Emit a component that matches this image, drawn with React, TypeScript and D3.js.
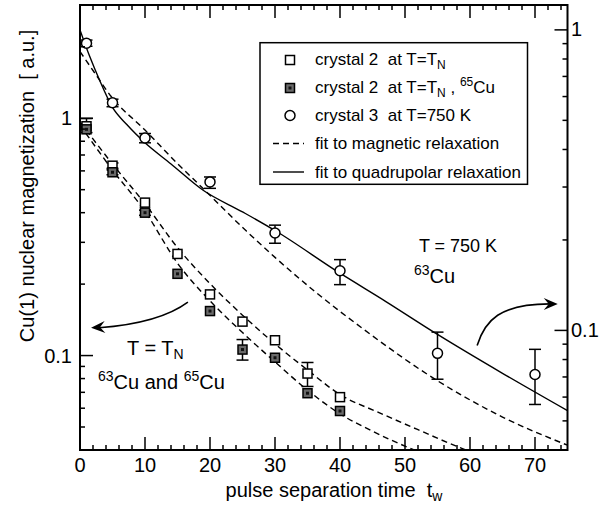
import React from 'react';
import * as d3 from 'd3';

const W = 611;
const H = 514;
const PL = 80, PR = 567.5, PT = 5, PB = 450;
const FONT = "'Liberation Sans', Arial, Helvetica, sans-serif";

// ---- data: crystal 2 at T = T_N (left axis) ----
const tnTimes = [1, 5, 10, 15, 20, 25, 30, 35, 40];
const open63 = [0.925, 0.631, 0.441, 0.268, 0.181, 0.139, 0.116, 0.084, 0.0668];
const open63Hi = [0.997, 0.648, null, null, null, null, null, 0.0935, null];
const open63Lo = [0.87, 0.615, null, null, null, null, null, 0.0741, null];
const filled65 = [0.898, 0.592, 0.4, 0.221, 0.154, 0.106, 0.0979, 0.0694, 0.0584];
const filled65Hi = [null, 0.606, 0.41, null, null, 0.1168, null, null, null];
const filled65Lo = [null, 0.578, 0.39, null, null, 0.0957, null, null, null];

// ---- data: crystal 3 at T = 750 K (right axis) ----
const hotTimes = [1, 5, 10, 20, 30, 40, 55, 70];
const hot750 = [0.903, 0.572, 0.437, 0.312, 0.211, 0.158, 0.0839, 0.0713];
const hot750Hi = [0.925, 0.588, 0.452, 0.324, 0.224, 0.172, 0.0987, 0.0865];
const hot750Lo = [0.882, 0.555, 0.421, 0.297, 0.195, 0.142, 0.0688, 0.0567];

// ---- fit curves ----
const quadT = [0, 1.5, 3, 5, 7.2, 10, 14, 19, 25, 30, 40, 47, 55, 65, 75];
const quadV = [1.0, 0.815, 0.681, 0.552, 0.484, 0.421, 0.358, 0.292, 0.248, 0.215, 0.155, 0.125, 0.097, 0.072, 0.0541];
const magHotT = [0, 2.3, 4.8, 10, 15, 18.7, 25.6, 30, 35.9, 43.6, 55, 65, 75];
const magHotV = [0.847, 0.717, 0.6, 0.464, 0.359, 0.3, 0.214, 0.175, 0.136, 0.101, 0.068, 0.0515, 0.0415];
const mag63T = [0, 5, 10, 15, 20, 25, 30, 35, 40, 46, 52, 58.2, 61];
const mag63V = [0.965, 0.641, 0.436, 0.285, 0.201, 0.148, 0.112, 0.087, 0.0685, 0.0575, 0.0487, 0.0412, 0.0385];
const mag65T = [0, 5, 10, 15, 20, 25, 30, 35, 40, 44.6, 50.3, 53];
const mag65V = [0.936, 0.605, 0.405, 0.245, 0.17, 0.125, 0.094, 0.0715, 0.0568, 0.0486, 0.0412, 0.0385];

// ---- ticks ----
const xMajor = [0, 10, 20, 30, 40, 50, 60, 70];
const xMinor = [2, 4, 6, 8, 12, 14, 16, 18, 22, 24, 26, 28, 32, 34, 36, 38, 42, 44, 46, 48, 52, 54, 56, 58, 62, 64, 66, 68, 72, 74];
const yMajor = [0.1, 1];
const yMajorLabels = ['0.1', '1'];
const yLeftMinor = [0.05, 0.06, 0.07, 0.08, 0.09, 0.2, 0.3, 0.4, 0.5, 0.6, 0.7, 0.8, 0.9, 2];
const yRightMinor = [0.04, 0.05, 0.06, 0.07, 0.08, 0.09, 0.2, 0.3, 0.4, 0.5, 0.6, 0.7, 0.8, 0.9];

const x = d3.scaleLinear().domain([0, 75]).range([PL, PR]);
const yL = d3.scaleLog().domain([0.04, 3]).range([PB, PT]);
const yR = d3.scaleLog().domain([0.04, 1.21]).range([PB, PT]);

function curvePath(ts: number[], vs: number[], ys: any) {
  const pts: [number, number][] = ts.map((t, i) => [x(t), ys(vs[i])]);
  return d3.line().curve(d3.curveMonotoneX)(pts) || '';
}

function arrowHead(tipX: number, tipY: number, fromX: number, fromY: number) {
  const ang = Math.atan2(tipY - fromY, tipX - fromX);
  const len = 14, hw = 6, notch = 9;
  const c = Math.cos(ang), s = Math.sin(ang);
  const bx = tipX - len * c, by = tipY - len * s;
  const p1 = [bx - hw * s, by + hw * c];
  const p2 = [bx + hw * s, by - hw * c];
  const n = [tipX - notch * c, tipY - notch * s];
  return `M${tipX},${tipY}L${p1[0]},${p1[1]}L${n[0]},${n[1]}L${p2[0]},${p2[1]}Z`;
}

const MAJ = 13, MIN = 5;
const SQ = 9;

function ErrorBar({ cx, hi, lo }: { cx: number; hi: number; lo: number }) {
  return (
    <g stroke="#000" strokeWidth={1.5}>
      <line x1={cx} x2={cx} y1={hi} y2={lo} />
      <line x1={cx - 6} x2={cx + 6} y1={hi} y2={hi} />
      <line x1={cx - 6} x2={cx + 6} y1={lo} y2={lo} />
    </g>
  );
}

function OpenSquare({ cx, cy }: { cx: number; cy: number }) {
  return <rect x={cx - SQ / 2} y={cy - SQ / 2} width={SQ} height={SQ} fill="#fff" stroke="#000" strokeWidth={1.5} />;
}
function FilledSquare({ cx, cy }: { cx: number; cy: number }) {
  return (
    <g>
      <rect x={cx - SQ / 2} y={cy - SQ / 2} width={SQ} height={SQ} fill="#6a6a6a" stroke="#000" strokeWidth={1.5} />
      <rect x={cx - 1.5} y={cy - 1.5} width={3} height={3} fill="#111" />
    </g>
  );
}
function OpenCircle({ cx, cy }: { cx: number; cy: number }) {
  return <circle cx={cx} cy={cy} r={5} fill="#fff" stroke="#000" strokeWidth={1.5} />;
}

export default function App() {
  // annotation arrows in data coordinates
  const la = { sx: x(16.6), sy: yL(0.168), c1x: x(13), c1y: yL(0.142), c2x: x(7.7), c2y: yL(0.134), ex: x(1.7), ey: yL(0.131) };
  const ra = { sx: x(61.1), sy: yR(0.0891), c1x: x(62.3), c1y: yR(0.108), c2x: x(64.6), c2y: yR(0.1225), ex: x(73.5), ey: yR(0.1225) };

  return (
    <svg width={W} height={H} style={{ display: 'block', position: 'absolute', left: 0, top: 0, fontFamily: FONT }}>
      <rect x={0} y={0} width={W} height={H} fill="#fff" />
      <defs>
        <clipPath id="plotclip">
          <rect x={PL} y={PT} width={PR - PL} height={PB - PT} />
        </clipPath>
      </defs>

      {/* fit curves */}
      <g clipPath="url(#plotclip)" fill="none" stroke="#000" strokeWidth={1.4}>
        <path d={curvePath(quadT, quadV, yR)} />
        <path d={curvePath(magHotT, magHotV, yR)} strokeDasharray="6,4" />
        <path d={curvePath(mag63T, mag63V, yL)} strokeDasharray="6,4" />
        <path d={curvePath(mag65T, mag65V, yL)} strokeDasharray="6,4" />
      </g>

      {/* error bars */}
      {tnTimes.map((t, i) =>
        open63Hi[i] != null ? <ErrorBar key={'oe' + i} cx={x(t)} hi={yL(open63Hi[i] as number)} lo={yL(open63Lo[i] as number)} /> : null
      )}
      {tnTimes.map((t, i) =>
        filled65Hi[i] != null ? <ErrorBar key={'fe' + i} cx={x(t)} hi={yL(filled65Hi[i] as number)} lo={yL(filled65Lo[i] as number)} /> : null
      )}
      {hotTimes.map((t, i) => (
        <ErrorBar key={'he' + i} cx={x(t)} hi={yR(hot750Hi[i])} lo={yR(hot750Lo[i])} />
      ))}

      {/* markers */}
      {tnTimes.map((t, i) => <OpenSquare key={'o' + i} cx={x(t)} cy={yL(open63[i])} />)}
      {tnTimes.map((t, i) => <FilledSquare key={'f' + i} cx={x(t)} cy={yL(filled65[i])} />)}
      {hotTimes.map((t, i) => <OpenCircle key={'h' + i} cx={x(t)} cy={yR(hot750[i])} />)}

      {/* frame */}
      <rect x={PL} y={PT} width={PR - PL} height={PB - PT} fill="none" stroke="#000" strokeWidth={2} />

      {/* ticks (inward on all sides) */}
      <g stroke="#000" strokeWidth={1.5}>
        {xMajor.map((t) => (
          <g key={'xm' + t}>
            <line x1={x(t)} x2={x(t)} y1={PB} y2={PB - MAJ} />
            <line x1={x(t)} x2={x(t)} y1={PT} y2={PT + MAJ} />
          </g>
        ))}
        {xMinor.map((t) => (
          <g key={'xn' + t}>
            <line x1={x(t)} x2={x(t)} y1={PB} y2={PB - MIN} />
            <line x1={x(t)} x2={x(t)} y1={PT} y2={PT + MIN} />
          </g>
        ))}
        {yMajor.map((v) => (
          <g key={'ym' + v}>
            <line x1={PL} x2={PL + MAJ} y1={yL(v)} y2={yL(v)} />
            <line x1={PR} x2={PR - MAJ} y1={yR(v)} y2={yR(v)} />
          </g>
        ))}
        {yLeftMinor.map((v) => <line key={'yl' + v} x1={PL} x2={PL + MIN} y1={yL(v)} y2={yL(v)} />)}
        {yRightMinor.map((v) => <line key={'yr' + v} x1={PR} x2={PR - MIN} y1={yR(v)} y2={yR(v)} />)}
      </g>

      {/* tick labels */}
      <g fontSize={20} fill="#000">
        {xMajor.map((t) => (
          <text key={'xl' + t} x={x(t)} y={471.5} textAnchor="middle">{t}</text>
        ))}
        {yMajor.map((v, i) => (
          <text key={'yll' + v} x={72} y={yL(v) + 7} textAnchor="end">{yMajorLabels[i]}</text>
        ))}
        {yMajor.map((v, i) => (
          <text key={'yrl' + v} x={571} y={yR(v) + 6.5} textAnchor="start">{yMajorLabels[i]}</text>
        ))}
      </g>

      {/* axis titles */}
      <text x={334} y={497} fontSize={20} textAnchor="middle" xmlSpace="preserve">
        {'pulse separation time  t'}
        <tspan fontSize={14} dy={4}>w</tspan>
      </text>
      <text transform="translate(34,186) rotate(-90)" fontSize={20} textAnchor="middle" xmlSpace="preserve">
        {'Cu(1) nuclear magnetization  [ a.u.]'}
      </text>

      {/* legend */}
      <g>
        <rect x={260} y={42.7} width={267.5} height={141.6} fill="#fff" stroke="#000" strokeWidth={1.5} />
        <OpenSquare cx={290} cy={60} />
        <FilledSquare cx={290} cy={88} />
        <OpenCircle cx={290} cy={115.5} />
        <line x1={273} x2={304} y1={143.5} y2={143.5} stroke="#000" strokeWidth={1.4} strokeDasharray="6,4" />
        <line x1={273} x2={304} y1={172} y2={172} stroke="#000" strokeWidth={1.4} />
        <g fontSize={17}>
          <text x={315} y={65} xmlSpace="preserve">
            {'crystal 2  at T=T'}
            <tspan fontSize={12} dy={4}>N</tspan>
          </text>
          <text x={315} y={93} xmlSpace="preserve">
            {'crystal 2  at T=T'}
            <tspan fontSize={12} dy={4}>N</tspan>
            <tspan dy={-4}>{' , '}</tspan>
            <tspan fontSize={12} dy={-7}>65</tspan>
            <tspan dy={7}>Cu</tspan>
          </text>
          <text x={315} y={120.5} xmlSpace="preserve">{'crystal 3  at T=750 K'}</text>
          <text x={315} y={149}>{'fit to magnetic relaxation'}</text>
          <text x={315} y={177.5}>{'fit to quadrupolar relaxation'}</text>
        </g>
      </g>

      {/* annotations */}
      <g fontSize={20}>
        <text x={458} y={252} textAnchor="middle" fontSize={18}>T = 750 K</text>
        <text x={414} y={282.5}>
          <tspan fontSize={14} dy={-8}>63</tspan>
          <tspan dy={8}>Cu</tspan>
        </text>
        <text x={127} y={354.5} xmlSpace="preserve">
          {'T = T'}
          <tspan fontSize={14} dy={4}>N</tspan>
        </text>
        <text x={98} y={388.5} xmlSpace="preserve">
          <tspan fontSize={14} dy={-8}>63</tspan>
          <tspan dy={8}>{'Cu and '}</tspan>
          <tspan fontSize={14} dy={-8}>65</tspan>
          <tspan dy={8}>Cu</tspan>
        </text>
      </g>

      {/* arrows */}
      <g>
        <path d={`M${la.sx},${la.sy}C${la.c1x},${la.c1y} ${la.c2x},${la.c2y} ${la.ex + 8},${la.ey}`} fill="none" stroke="#000" strokeWidth={1.6} />
        <path d={arrowHead(la.ex, la.ey, la.c2x, la.c2y)} fill="#000" />
        <path d={`M${ra.sx},${ra.sy}C${ra.c1x},${ra.c1y} ${ra.c2x},${ra.c2y} ${ra.ex - 8},${ra.ey}`} fill="none" stroke="#000" strokeWidth={1.6} />
        <path d={arrowHead(ra.ex, ra.ey, ra.c2x, ra.c2y)} fill="#000" />
      </g>
    </svg>
  );
}
